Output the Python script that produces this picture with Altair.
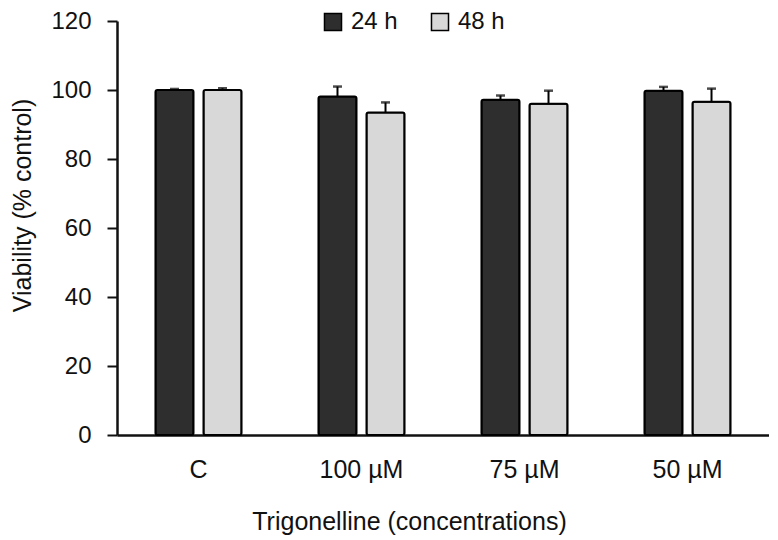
import altair as alt
import pandas as pd

concentrations = ["C", "100 µM", "75 µM", "50 µM"]
times = ["24 h", "48 h"]
viability_24h = [100.0, 98.1, 97.2, 99.8]
viability_48h = [100.0, 93.5, 96.0, 96.6]
error_24h = [0.3, 2.9, 1.2, 1.1]
error_48h = [0.5, 2.9, 3.8, 3.8]

rows = []
for i, c in enumerate(concentrations):
    rows.append({"conc": c, "time": times[0], "value": viability_24h[i], "err": error_24h[i]})
    rows.append({"conc": c, "time": times[1], "value": viability_48h[i], "err": error_48h[i]})
df = pd.DataFrame(rows)
df["upper"] = df["value"] + df["err"]

FONT = "Liberation Sans"

x_enc = alt.X("conc:N", sort=concentrations,
              scale=alt.Scale(paddingInner=0.472, paddingOuter=0.236),
              axis=alt.Axis(title="Trigonelline (concentrations)", labelAngle=0,
                            ticks=False, labelPadding=22, labelFontSize=25,
                            titleFontSize=25, titleFontWeight="normal",
                            titleX=292, titleY=86, titleBaseline="middle",
                            domainColor="#111", domainWidth=2.5,
                            labelColor="#111", titleColor="#111"))
xoff = alt.XOffset("time:N", sort=times, scale=alt.Scale(paddingInner=0.208, paddingOuter=0))

y_scale = alt.Scale(domain=[0, 120])

base = alt.Chart(df)

bars = base.mark_bar(stroke="black", strokeWidth=2, cornerRadius=2).encode(
    x=x_enc,
    xOffset=xoff,
    y=alt.Y("value:Q", scale=y_scale,
            axis=alt.Axis(title="Viability (% control)", values=[0, 20, 40, 60, 80, 100, 120],
                          grid=False, tickSize=10, tickWidth=2, tickColor="#111",
                          domainColor="#111", domainWidth=2.5, labelPadding=16,
                          labelFontSize=24, titleFontSize=25, titleFontWeight="normal",
                          titleX=-95, titleY=184, titleBaseline="middle", titleAlign="center",
                          labelColor="#111", titleColor="#111")),
    color=alt.Color("time:N", sort=times,
                    scale=alt.Scale(domain=times, range=["#2e2e2e", "#d8d8d8"]),
                    legend=alt.Legend(title=None, orient="none", direction="horizontal",
                                      legendX=204, legendY=-11, symbolType="square",
                                      symbolSize=290, symbolStrokeColor="black",
                                      symbolStrokeWidth=1.5, symbolOpacity=1,
                                      labelFontSize=24, labelOffset=6, columnPadding=30,
                                      labelColor="#111")),
)

rules = base.mark_rule(color="black", strokeWidth=2).encode(
    x=alt.X("conc:N", sort=concentrations),
    xOffset=xoff,
    y=alt.Y("value:Q", scale=y_scale),
    y2="upper:Q",
)

caps = base.mark_tick(color="black", thickness=2.5, size=9, orient="horizontal").encode(
    x=alt.X("conc:N", sort=concentrations),
    xOffset=xoff,
    y=alt.Y("upper:Q", scale=y_scale),
)

chart = alt.layer(bars, rules, caps).properties(
    width=652, height=414,
    autosize=alt.AutoSizeParams(type="none"),
    padding={"left": 109, "top": 13, "right": 0, "bottom": 104},
).configure(font=FONT).configure_view(stroke=None)

chart.save("out.html", embed_options={"renderer": "svg", "actions": False})
